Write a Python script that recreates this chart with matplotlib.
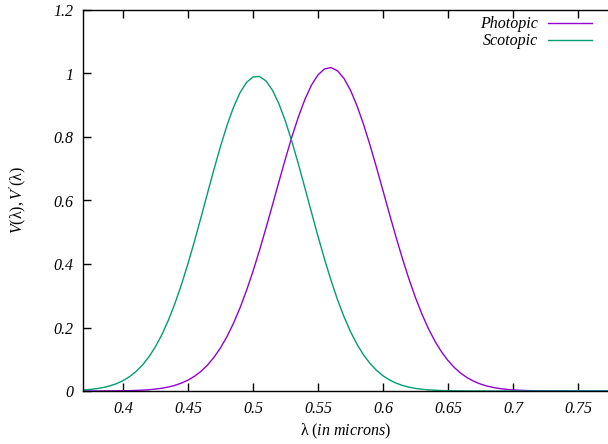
import matplotlib
matplotlib.use("Agg")
import matplotlib.pyplot as plt

plt.rcParams.update({
    "font.family": ["Liberation Serif", "DejaVu Serif"],
    "mathtext.fontset": "custom",
    "mathtext.rm": "Liberation Serif",
    "mathtext.it": "Liberation Serif:italic",
    "font.size": 11.5,
})

# wavelength in microns, 0.370 .. 0.775 step 0.005
wavelength = [0.370 + 0.005 * i for i in range(82)]

photopic = [
    0.0000, 0.0001, 0.0001, 0.0002, 0.0003, 0.0005, 0.0007, 0.0012, 0.0018, 0.0027,
    0.0041, 0.0061, 0.0088, 0.0127, 0.0179, 0.0250, 0.0343, 0.0465, 0.0621, 0.0818,
    0.1063, 0.1360, 0.1716, 0.2135, 0.2619, 0.3166, 0.3773, 0.4433, 0.5135, 0.5864,
    0.6602, 0.7326, 0.8016, 0.8645, 0.9192, 0.9636, 0.9957, 1.0144, 1.0187, 1.0086,
    0.9844, 0.9472, 0.8985, 0.8402, 0.7746, 0.7039, 0.6307, 0.5570, 0.4850, 0.4164,
    0.3523, 0.2939, 0.2417, 0.1960, 0.1567, 0.1234, 0.0959, 0.0734, 0.0554, 0.0413,
    0.0303, 0.0219, 0.0156, 0.0110, 0.0076, 0.0052, 0.0035, 0.0023, 0.0015, 0.0010,
    0.0006, 0.0004, 0.0002, 0.0001, 0.0001, 0.0000, 0.0000, 0.0000, 0.0000, 0.0000,
    0.0000, 0.0000,
]

scotopic = [
    0.0033, 0.0051, 0.0076, 0.0112, 0.0163, 0.0232, 0.0326, 0.0451, 0.0613, 0.0820,
    0.1080, 0.1399, 0.1784, 0.2239, 0.2765, 0.3359, 0.4016, 0.4725, 0.5471, 0.6232,
    0.6987, 0.7707, 0.8367, 0.8938, 0.9395, 0.9718, 0.9891, 0.9907, 0.9765, 0.9471,
    0.9039, 0.8489, 0.7845, 0.7134, 0.6385, 0.5622, 0.4872, 0.4154, 0.3486, 0.2878,
    0.2339, 0.1870, 0.1471, 0.1139, 0.0868, 0.0650, 0.0480, 0.0348, 0.0249, 0.0175,
    0.0121, 0.0082, 0.0055, 0.0036, 0.0024, 0.0015, 0.0009, 0.0006, 0.0004, 0.0002,
    0.0001, 0.0001, 0.0000, 0.0000, 0.0000, 0.0000, 0.0000, 0.0000, 0.0000, 0.0000,
    0.0000, 0.0000, 0.0000, 0.0000, 0.0000, 0.0000, 0.0000, 0.0000, 0.0000, 0.0000,
    0.0000, 0.0000,
]

xticks = [0.4, 0.45, 0.5, 0.55, 0.6, 0.65, 0.7, 0.75]
xtick_labels = ["0.4", "0.45", "0.5", "0.55", "0.6", "0.65", "0.7", "0.75"]
yticks = [0, 0.2, 0.4, 0.6, 0.8, 1.0, 1.2]
ytick_labels = ["0", "0.2", "0.4", "0.6", "0.8", "1", "1.2"]

fig = plt.figure(figsize=(6.08, 4.44), dpi=100)
ax = fig.add_axes([83 / 608, 53 / 444, 1 - 83 / 608, 381 / 444])

ax.plot(wavelength, photopic, color="#9400d3", lw=1.0, label="Photopic")
ax.plot(wavelength, scotopic, color="#009e73", lw=1.0, label="Scotopic")

ax.set_xlim(0.3692, 0.7731)
ax.set_ylim(0, 1.2)
ax.set_xticks(xticks)
ax.set_xticklabels(xtick_labels, fontstyle="italic")
ax.set_yticks(yticks)
ax.set_yticklabels(ytick_labels, fontstyle="italic")
ax.tick_params(direction="in", length=6, width=1, top=True, right=False)
ax.tick_params(axis="x", pad=7)
ax.tick_params(axis="y", pad=7)
for s in ("left", "bottom", "top"):
    ax.spines[s].set_linewidth(1.0)
ax.spines["right"].set_visible(False)

ax.set_xlabel(r"$\mathrm{λ}\ \mathit{(in\ microns)}$", labelpad=4)
ax.set_ylabel(r"$\mathit{V(}\mathrm{λ}\mathit{),V'(}\mathrm{λ}\mathit{)}$", labelpad=18)

leg = ax.legend(loc="upper right", frameon=False, markerfirst=False,
                handlelength=2.75, handletextpad=0.6, borderaxespad=0.0,
                labelspacing=0.05, bbox_to_anchor=(0.981, 1.0),
                prop={"style": "italic", "size": 11.5})

fig.savefig("out.png", dpi=100)
